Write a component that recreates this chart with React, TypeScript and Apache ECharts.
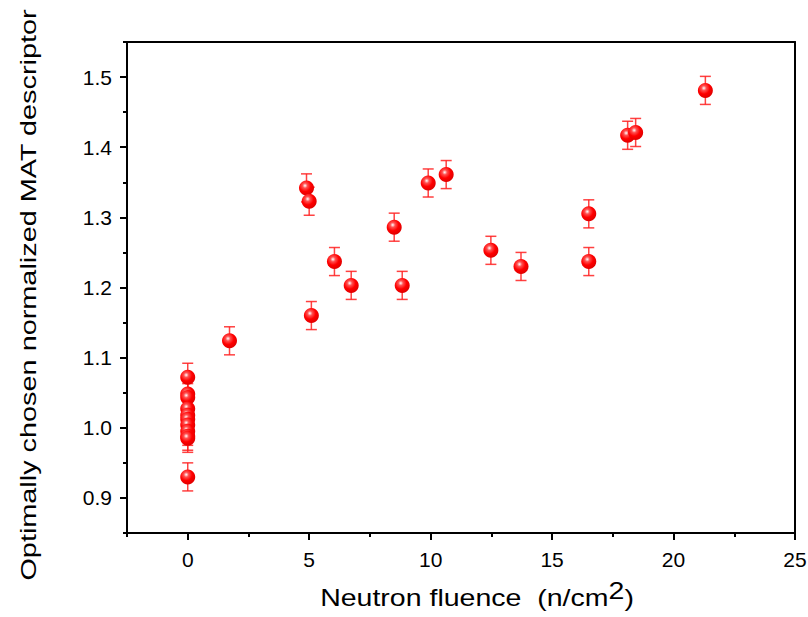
import React, { useEffect, useRef } from "react";
import * as echarts from "echarts";

const fluence = [0, 0, 0, 0, 0, 0, 0, 0, 0, 0, 0, 1.72, 4.89, 5.0, 5.09, 6.04, 6.73, 8.5, 8.83, 9.9, 10.64, 12.48, 13.72, 16.51, 16.51, 18.11, 18.44, 21.31];
const descriptor = [1.072, 1.048, 1.043, 1.027, 1.018, 1.012, 1.004, 0.995, 0.988, 0.985, 0.93, 1.124, 1.342, 1.323, 1.16, 1.237, 1.203, 1.286, 1.203, 1.349, 1.361, 1.253, 1.23, 1.305, 1.237, 1.417, 1.421, 1.481];
const errors = [0.02, 0.02, 0.02, 0.02, 0.02, 0.02, 0.02, 0.02, 0.02, 0.02, 0.02, 0.02, 0.02, 0.02, 0.02, 0.02, 0.02, 0.02, 0.02, 0.02, 0.02, 0.02, 0.02, 0.02, 0.02, 0.02, 0.02, 0.02];
const xMajorTicks = [0, 5, 10, 15, 20, 25];
const xMinorTicks = [-2.5, 2.5, 7.5, 12.5, 17.5, 22.5];
const yMajorTicks = [0.9, 1.0, 1.1, 1.2, 1.3, 1.4, 1.5];
const yMinorTicks = [0.85, 0.95, 1.05, 1.15, 1.25, 1.35, 1.45, 1.55];
const xTitle = "Neutron fluence  (n/cm{sup|2})";
const yTitle = "Optimally chosen normalized MAT descriptor";

const FONT = "Liberation Sans, Arial, sans-serif";

export default function App() {
  const ref = useRef<HTMLDivElement>(null);
  useEffect(() => {
    if (!ref.current) return;
    const chart = echarts.init(ref.current, null, { renderer: "svg" });
    const points = fluence.map((x, i) => [x, descriptor[i]]);
    const errData = fluence.map((x, i) => [x, descriptor[i] - errors[i], descriptor[i] + errors[i]]);
    const axisLine = { show: true, onZero: false, lineStyle: { color: "#000", width: 2 } };
    const xBase = { type: "value", min: -2.5, max: 25, splitLine: { show: false } };
    const yBase = { type: "value", min: 0.85, max: 1.55, splitLine: { show: false } };
    chart.setOption({
      animation: false,
      backgroundColor: "#fff",
      grid: { left: 127, right: 13, top: 42, bottom: 84, containLabel: false, outerBoundsMode: "none" },
      graphic: [
        {
          type: "text",
          x: 477,
          y: 598,
          scaleX: 1.24,
          style: {
            text: xTitle,
            fill: "#000",
            font: "23px " + FONT,
            fontSize: 23,
            fontFamily: FONT,
            align: "center",
            verticalAlign: "middle",
            rich: { sup: { fontSize: 23, fontFamily: FONT, fill: "#000", verticalAlign: "bottom", padding: [0, 0, 14, 0] } },
          },
        },
        {
          type: "text",
          x: 28,
          y: 295,
          rotation: Math.PI / 2,
          scaleX: 1.255,
          style: {
            text: yTitle,
            fill: "#000",
            fontSize: 23,
            fontFamily: FONT,
            align: "center",
            verticalAlign: "middle",
          },
        },
      ],
      xAxis: [
        {
          ...xBase,
          position: "bottom",
          axisLine,
          axisTick: { show: true, length: 7, inside: false, lineStyle: { color: "#000", width: 2 }, customValues: xMajorTicks },
          axisLabel: { show: true, customValues: xMajorTicks, color: "#000", fontSize: 21, fontFamily: FONT, margin: 16 },
        },
        {
          ...xBase,
          position: "bottom",
          axisLine: { show: false, onZero: false },
          axisTick: { show: true, length: 4, lineStyle: { color: "#000", width: 2 }, customValues: xMinorTicks },
          axisLabel: { show: false },
        },
        {
          ...xBase,
          position: "top",
          axisLine,
          axisTick: { show: false },
          axisLabel: { show: false },
        },
      ],
      yAxis: [
        {
          ...yBase,
          position: "left",
          axisLine,
          axisTick: { show: true, length: 7, lineStyle: { color: "#000", width: 2 }, customValues: yMajorTicks },
          axisLabel: {
            show: true, customValues: yMajorTicks, color: "#000", fontSize: 21, fontFamily: FONT, margin: 15,
            formatter: (v: number) => v.toFixed(1),
          },
        },
        {
          ...yBase,
          position: "left",
          axisLine: { show: false, onZero: false },
          axisTick: { show: true, length: 4, lineStyle: { color: "#000", width: 2 }, customValues: yMinorTicks },
          axisLabel: { show: false },
        },
        {
          ...yBase,
          position: "right",
          axisLine,
          axisTick: { show: false },
          axisLabel: { show: false },
        },
      ],
      series: [
        {
          type: "custom",
          xAxisIndex: 0,
          yAxisIndex: 0,
          z: 1,
          data: errData,
          renderItem: (params: any, api: any) => {
            const x = api.value(0);
            const lo = api.coord([x, api.value(1)]);
            const hi = api.coord([x, api.value(2)]);
            const hw = 5.5;
            const style = { stroke: "#ff2020", lineWidth: 1.5, opacity: 0.85 };
            return {
              type: "group",
              children: [
                { type: "line", shape: { x1: lo[0], y1: lo[1], x2: hi[0], y2: hi[1] }, style },
                { type: "line", shape: { x1: lo[0] - hw, y1: lo[1], x2: lo[0] + hw, y2: lo[1] }, style },
                { type: "line", shape: { x1: hi[0] - hw, y1: hi[1], x2: hi[0] + hw, y2: hi[1] }, style },
              ],
            };
          },
        },
        {
          type: "scatter",
          xAxisIndex: 0,
          yAxisIndex: 0,
          z: 5,
          symbol: "circle",
          symbolSize: 15,
          data: points,
          itemStyle: {
            color: new echarts.graphic.RadialGradient(0.4, 0.35, 0.65, [
              { offset: 0, color: "#ffffff" },
              { offset: 0.25, color: "#ff5050" },
              { offset: 0.6, color: "#ff0000" },
              { offset: 1, color: "#e00000" },
            ]),
            opacity: 1,
          },
        },
      ],
    });
    return () => chart.dispose();
  }, []);
  return <div ref={ref} style={{ position: "fixed", left: 0, top: 0, width: 808, height: 617 }} />;
}
